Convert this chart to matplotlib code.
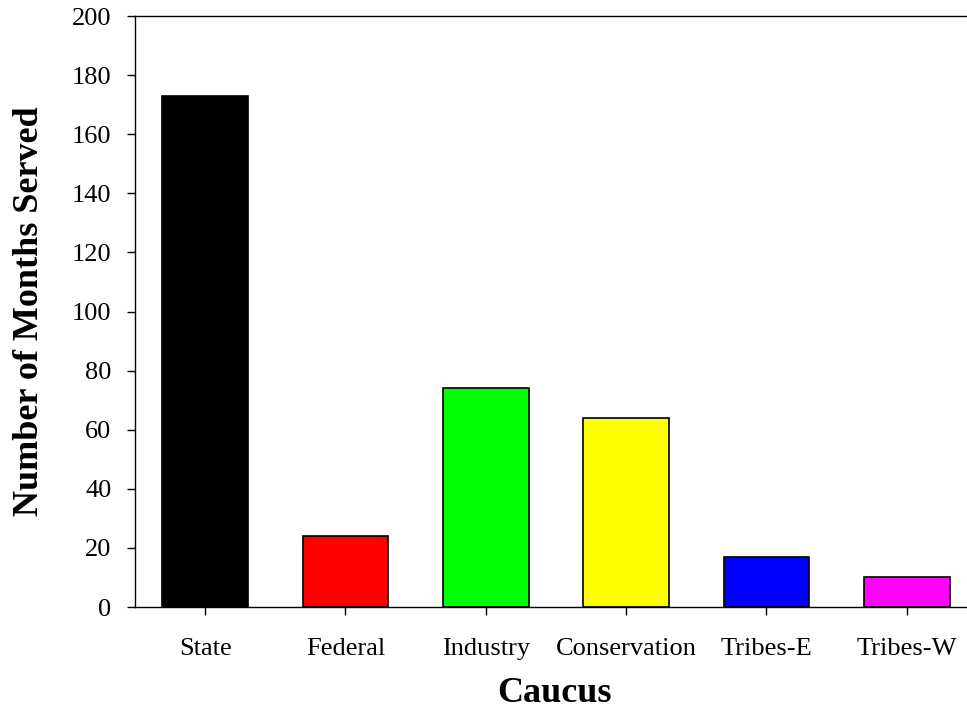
import numpy as np
import matplotlib.pyplot as plt

# data
categories = ["State", "Federal", "Industry", "Conservation", "Tribes-E", "Tribes-W"]
months = [173, 24, 74, 64, 17, 10]
colors = ["#000000", "#ff0000", "#00ff00", "#ffff00", "#0000ff", "#ff00ff"]
y_ticks = list(range(0, 201, 20))

plt.rcParams['font.family'] = ['Liberation Serif', 'DejaVu Serif']

fig = plt.figure(figsize=(9.67, 7.24), dpi=100)
ax = fig.add_axes([0.1396, 0.1616, 1.0103 - 0.1396, 0.9779 - 0.1616])

x = np.arange(len(categories))
ax.bar(x, months, width=0.61, color=colors, edgecolor="black", linewidth=1.2)

ax.set_xlim(-0.5, len(categories) - 0.5)
ax.set_ylim(0, 200)
ax.set_yticks(y_ticks)
ax.set_xticks(x)
ax.set_xticklabels(categories)

ax.tick_params(axis='both', direction='out', length=6, width=1.0, labelsize=19)
ax.tick_params(axis='y', pad=11)
ax.tick_params(axis='x', pad=16)

for s in ax.spines.values():
    s.set_linewidth(1.0)
ax.spines['right'].set_visible(False)

ax.set_xlabel("Caucus", fontsize=26, fontweight='bold')
ax.set_ylabel("Number of Months Served", fontsize=26, fontweight='bold')
ax.xaxis.set_label_coords((555 - 135) / (977 - 135), -(693 - 607) / (607 - 16))
ax.xaxis.label.set_va('center')
ax.yaxis.set_label_coords(-(135 - 30) / (977 - 135), 0.5)
ax.yaxis.label.set_va('center')

fig.savefig("out.png", dpi=100)
